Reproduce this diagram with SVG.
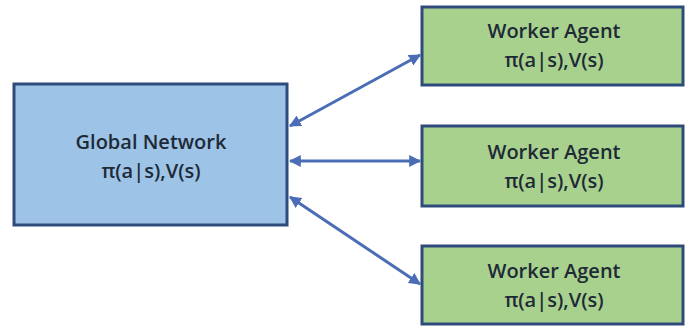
<svg xmlns="http://www.w3.org/2000/svg" width="686" height="326" viewBox="0 0 686 326">
<defs>
<style>
.box{stroke:#2f4b7c;stroke-width:3}
.g{fill:#9dc3e6}
.w{fill:#a9d18e}
.t{font-family:"Open Sans","Liberation Sans",sans-serif;font-weight:600;font-size:20px;fill:#1e2a36;text-anchor:middle}
.c{stroke:#4a6db5;stroke-width:3;fill:none;marker-start:url(#ah);marker-end:url(#ah)}
</style>
<marker id="ah" viewBox="0 0 10 10" refX="9" refY="5" markerWidth="4" markerHeight="4" orient="auto-start-reverse" markerUnits="strokeWidth">
<path d="M0,0 L10,5 L0,10 z" fill="#4a6db5"/>
</marker>
</defs>
<rect width="686" height="326" fill="#ffffff"/>
<g id="connectors">
<line class="c" x1="290" y1="126" x2="420" y2="55"/>
<line class="c" x1="290" y1="161" x2="420" y2="161"/>
<line class="c" x1="290" y1="197" x2="420" y2="284"/>
</g>
<g id="global">
<rect class="box g" x="14" y="84" width="273" height="141"/>
<text class="t" x="151" y="149">Global Network</text>
<text class="t" x="151" y="178">π(a|s),V(s)</text>
</g>
<g id="worker1">
<rect class="box w" x="422" y="7" width="261" height="78"/>
<text class="t" x="554" y="38">Worker Agent</text>
<text class="t" x="554" y="67">π(a|s),V(s)</text>
</g>
<g id="worker2">
<rect class="box w" x="422" y="126" width="261" height="80"/>
<text class="t" x="554" y="159">Worker Agent</text>
<text class="t" x="554" y="188">π(a|s),V(s)</text>
</g>
<g id="worker3">
<rect class="box w" x="422" y="246" width="261" height="78"/>
<text class="t" x="554" y="278">Worker Agent</text>
<text class="t" x="554" y="307">π(a|s),V(s)</text>
</g>
</svg>
